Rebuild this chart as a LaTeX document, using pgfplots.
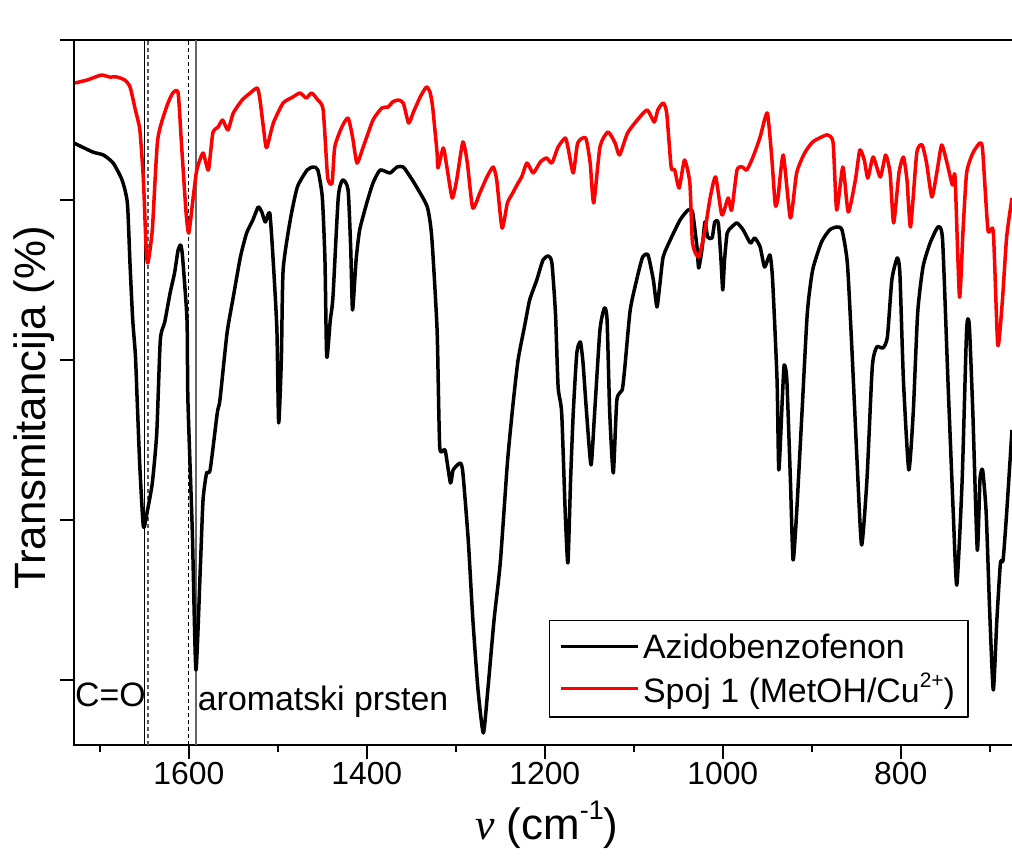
\documentclass[border=0pt]{standalone}
\usepackage{fontspec}
\setmainfont{Liberation Sans}
\newfontfamily\serif{Liberation Serif}
\usepackage{pgfplots}
\pgfplotsset{compat=1.18}

% IR spektri: Azidobenzofenon i Spoj 1
\pgfplotstableread{
x y
1729 602
1708 593
1696 590
1685 582
1675 565
1669 542
1666 480
1663 425
1660 390
1658 345
1655 278
1651 218
1647 232
1641 262
1636 312
1632 405
1627 423
1621 452
1616 472
1612 495
1609 500
1607 488
1602 425
1601 345
1596 212
1592 75
1587 178
1584 245
1580 272
1576 275
1568 332
1565 345
1557 412
1550 448
1542 488
1535 512
1528 525
1522 538
1518 533
1514 523
1509 532
1505 482
1501 415
1499 322
1496 385
1494 475
1486 525
1478 558
1467 575
1460 578
1455 575
1450 548
1447 485
1445 388
1441 425
1438 448
1432 548
1427 565
1421 555
1418 495
1416 435
1412 485
1408 515
1400 542
1393 562
1385 575
1374 572
1366 578
1359 578
1351 568
1344 558
1332 538
1327 508
1321 415
1318 298
1312 295
1306 262
1303 275
1295 282
1292 272
1286 205
1281 128
1275 55
1269 12
1264 55
1257 125
1250 182
1242 282
1236 338
1230 385
1222 422
1217 445
1209 465
1202 485
1196 489
1192 482
1188 432
1185 358
1181 332
1177 232
1174 182
1171 265
1168 332
1164 392
1160 403
1157 382
1153 332
1148 280
1144 332
1138 415
1133 437
1130 425
1127 332
1123 272
1119 345
1113 355
1110 378
1104 435
1096 468
1090 488
1084 490
1078 465
1074 438
1071 458
1067 488
1059 505
1048 525
1039 535
1034 533
1029 498
1027 477
1023 498
1020 523
1017 508
1012 507
1009 523
1005 522
1002 485
1000 455
998 485
995 512
990 518
984 522
977 515
969 502
964 507
958 498
953 478
947 490
944 465
939 365
937 275
933 348
931 380
928 365
924 265
921 185
917 232
911 332
905 432
899 475
889 503
880 515
872 518
866 515
860 482
855 398
849 282
844 200
838 265
832 378
827 398
820 397
815 408
810 465
804 487
801 472
797 365
791 275
786 332
781 432
775 478
767 502
758 518
753 505
747 365
741 232
737 160
731 265
726 415
723 420
719 332
714 195
711 265
708 275
704 232
700 132
696 55
692 125
688 182
685 185
681 232
675 315
}\azido

\pgfplotstableread{
x y
1728 662
1714 665
1708 667
1698 670
1689 668
1681 668
1672 665
1666 658
1660 635
1655 615
1651 565
1648 498
1646 482
1641 515
1635 605
1625 638
1618 652
1612 652
1608 598
1603 532
1600 512
1595 548
1591 575
1584 592
1578 575
1573 612
1567 618
1562 625
1556 615
1550 632
1540 645
1531 652
1523 657
1520 645
1514 602
1512 598
1505 622
1494 642
1483 648
1475 652
1468 647
1462 652
1455 645
1449 635
1444 568
1439 562
1436 598
1428 618
1421 627
1416 608
1411 582
1404 598
1393 625
1383 637
1376 638
1371 643
1365 645
1359 642
1353 622
1348 632
1340 648
1333 658
1329 653
1326 638
1321 592
1320 577
1314 597
1310 578
1304 547
1299 565
1292 603
1287 582
1281 537
1273 552
1265 568
1258 578
1254 565
1248 517
1242 542
1236 552
1230 562
1226 568
1220 582
1213 572
1205 583
1198 587
1192 582
1185 598
1177 607
1174 598
1168 572
1163 602
1154 607
1149 582
1145 542
1138 598
1129 613
1121 602
1116 590
1107 612
1096 625
1085 635
1077 623
1073 635
1067 642
1063 632
1058 578
1054 575
1049 557
1043 585
1037 562
1034 502
1027 488
1020 515
1014 548
1008 568
1001 530
994 547
990 535
984 575
978 578
973 575
966 588
958 608
950 632
945 588
941 540
938 547
932 590
924 527
917 572
908 592
899 603
889 608
882 610
876 602
872 535
865 578
859 533
851 565
846 595
841 585
837 567
831 588
823 568
817 590
812 572
808 522
802 572
797 588
793 565
789 518
782 592
776 600
771 582
765 548
759 575
754 600
748 582
742 560
739 568
734 448
730 515
726 572
719 592
711 602
708 595
702 515
696 513
691 400
686 442
681 508
675 547
}\spoj

\begin{document}
\begin{tikzpicture}
\begin{axis}[
  name=ax,
  at={(0,0)}, anchor=south west,
  scale only axis,
  width=938bp, height=705bp,
  xmin=675, xmax=1729, x dir=reverse,
  ymin=0, ymax=705,
  axis x line*=box, axis y line*=left,
  axis line style={line width=2.8bp, line cap=rect},
  xtick={800,1000,1200,1400,1600},
  minor xtick={700,900,1100,1300,1500,1700},
  ytick={65,225,385,545,705},
  yticklabels={},
  xtick pos=bottom, ytick pos=left,
  tick align=outside,
  major tick length=14bp, minor tick length=7bp,
  every tick/.style={black, line width=2.5bp},
  /pgf/number format/assume math mode=true,
  /pgf/number format/1000 sep={},
  ticklabel style={font=\fontsize{32}{38}\selectfont},
  xlabel={{\serif\itshape ν} (cm\raisebox{0.45em}{\fontsize{27}{30}\selectfont -1})},
  ylabel={Transmitancija (\%)},
  label style={font=\fontsize{44}{52}\selectfont},
  xlabel style={at={(axis description cs:0.504,-0.113)}, anchor=center},
  ylabel style={at={(axis description cs:-0.0426,0.478)}, anchor=center},
  legend style={at={(axis description cs:0.5064,0.1773)}, anchor=north west,
    draw=black, line width=1.2bp, fill=white,
    font=\fontsize{34}{40}\selectfont,
    inner xsep=10bp, inner ysep=10bp, row sep=7bp,
    nodes={inner sep=3bp}},
  legend cell align=left,
  legend image code/.code={\draw[#1, line width=3.5bp] (0bp,0bp) -- (77bp,0bp);},
  clip=true,
  line join=round,
]
% oznake traka
\addplot[black, line width=1.2bp, forget plot] coordinates {(1650,0) (1650,705)};
\addplot[black!65, line width=1.6bp, dash pattern=on 4bp off 3bp, forget plot] coordinates {(1646,0) (1646,705)};
\addplot[black, line width=1.3bp, dash pattern=on 4bp off 3bp, forget plot] coordinates {(1600,0) (1600,705)};
\addplot[black!60, line width=2bp, forget plot] coordinates {(1592,0) (1592,705)};

\addplot[black, line width=3.5bp, smooth, tension=0.35] table {\azido};
\addlegendentry{Azidobenzofenon}
\addplot[red, line width=3.5bp, smooth, tension=0.35] table {\spoj};
\addlegendentry{Spoj 1 (MetOH/Cu\raisebox{0.45em}{\fontsize{21}{24}\selectfont 2+})}

\node[anchor=base west, inner sep=0pt, font=\fontsize{34}{40}\selectfont] at (axis cs:1728,39) {C=O};
\node[anchor=base west, inner sep=0pt, font=\fontsize{34}{40}\selectfont] at (axis cs:1590,35) {aromatski prsten};
\end{axis}
\pgfresetboundingbox
\path[use as bounding box] ([xshift=-74bp,yshift=-112bp]ax.south west) rectangle ([yshift=40bp]ax.north east);
\end{tikzpicture}
\end{document}
